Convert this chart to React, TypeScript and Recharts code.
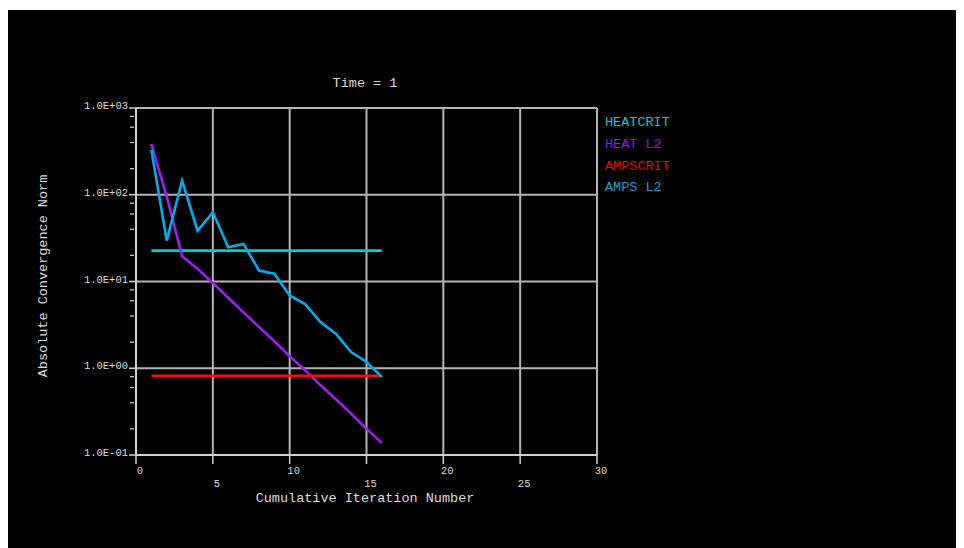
import React from 'react';
import { LineChart, Line, XAxis, YAxis, ReferenceLine } from 'recharts';

const iterations = [1, 2, 3, 4, 5, 6, 7, 8, 9, 10, 11, 12, 13, 14, 15, 16];
const heatCrit = [22.7, 22.7, 22.7, 22.7, 22.7, 22.7, 22.7, 22.7, 22.7, 22.7, 22.7, 22.7, 22.7, 22.7, 22.7, 22.7];
const heatL2 = [385, 95, 19.6, 14, 9.6, 6.5, 4.4, 3.0, 2.05, 1.38, 0.95, 0.64, 0.44, 0.3, 0.2, 0.138];
const ampsCrit = [0.82, 0.82, 0.82, 0.82, 0.82, 0.82, 0.82, 0.82, 0.82, 0.82, 0.82, 0.82, 0.82, 0.82, 0.82, 0.82];
const ampsL2 = [329, 29.6, 146, 38.5, 62.7, 24.8, 27.1, 13.4, 12.3, 6.9, 5.5, 3.4, 2.5, 1.54, 1.18, 0.79];

const xTicks = [0, 5, 10, 15, 20, 25, 30];
const xGrid = [5, 10, 15, 20, 25, 30];
const yMajor = [0.1, 1, 10, 100, 1000];
const yMajorLabels = ['1.0E-01', '1.0E+00', '1.0E+01', '1.0E+02', '1.0E+03'];
const yMinorFactors = [2, 4, 6, 8];
const yGrid = [1, 10, 100, 1000];

const seriesNames = ['HEATCRIT', 'HEAT L2', 'AMPSCRIT', 'AMPS L2'];
const seriesKeys = ['heatCrit', 'heatL2', 'ampsCrit', 'ampsL2'];
const lineColors = ['#00cccc', '#9d1ff0', '#ff0a0a', '#00aeef'];
const legendColors = ['#1cc4c4', '#9416e0', '#e00a0a', '#1a9ad6'];

const data = iterations.map((it, i) => ({
  iter: it,
  heatCrit: heatCrit[i],
  heatL2: heatL2[i],
  ampsCrit: ampsCrit[i],
  ampsL2: ampsL2[i],
}));

const yTicks: number[] = [];
yMajor.forEach((d, i) => {
  yTicks.push(d);
  if (i < yMajor.length - 1) yMinorFactors.forEach((f) => yTicks.push(+(d * f).toPrecision(3)));
});

const FONT = '"Liberation Mono", "Courier New", monospace';
const TXT = '#dcdcdc';
const AXIS = '#d0d0d0';
const GRID = '#b4b4b4';

const YTick = (props: any) => {
  const { x, y, payload } = props;
  const v = payload.value;
  const idx = yMajor.findIndex((m) => Math.abs(m - v) / m < 1e-6);
  if (idx >= 0) {
    return (
      <g>
        <line x1={x - 7} x2={x} y1={y} y2={y} stroke={AXIS} strokeWidth={1.5} />
        <text x={x - 8} y={y + 1} textAnchor="end" fill={TXT} fontFamily={FONT} fontSize={10.5}>
          {yMajorLabels[idx]}
        </text>
      </g>
    );
  }
  return <line x1={x - 6} x2={x - 2} y1={y} y2={y} stroke={AXIS} strokeWidth={1.2} />;
};

const XTick = (props: any) => {
  const { x, y, payload } = props;
  const v = payload.value;
  const row2 = v % 10 !== 0;
  return (
    <g>
      <line x1={x} x2={x} y1={y} y2={y + 9} stroke={AXIS} strokeWidth={1.5} />
      <text
        x={x + 4}
        y={y + (row2 ? 32 : 19)}
        textAnchor="middle"
        fill={TXT}
        fontFamily={FONT}
        fontSize={10.5}
      >
        {String(v)}
      </text>
    </g>
  );
};

const textStyle: React.CSSProperties = {
  position: 'absolute',
  fontFamily: FONT,
  fontSize: 13.5,
  color: TXT,
  whiteSpace: 'nowrap',
  lineHeight: '16px',
};

export default function App() {
  return (
    <div style={{ position: 'relative', width: 956, height: 538, marginTop: 2, background: '#000' }}>
      <LineChart
        width={956}
        height={538}
        data={data}
        margin={{ top: 98, right: 367, bottom: 0, left: 0 }}
      >
        {xGrid.map((v) => (
          <ReferenceLine key={'gx' + v} x={v} stroke={GRID} strokeWidth={2} ifOverflow="extendDomain" />
        ))}
        {yGrid.map((v) => (
          <ReferenceLine key={'gy' + v} y={v} stroke={GRID} strokeWidth={2} />
        ))}
        <XAxis
          type="number"
          dataKey="iter"
          domain={[0, 30]}
          ticks={xTicks}
          interval={0}
          height={93}
          tickSize={0}
          tickMargin={0}
          axisLine={{ stroke: AXIS, strokeWidth: 2 }}
          tickLine={false}
          tick={<XTick />}
        />
        <YAxis
          type="number"
          scale="log"
          domain={[0.1, 1000]}
          allowDataOverflow
          ticks={yTicks}
          interval={0}
          width={128}
          tickSize={0}
          tickMargin={0}
          axisLine={{ stroke: AXIS, strokeWidth: 2 }}
          tickLine={false}
          tick={<YTick />}
        />
        {seriesKeys.map((k, i) => (
          <Line
            key={k}
            type="linear"
            dataKey={k}
            stroke={lineColors[i]}
            strokeWidth={2.6}
            dot={false}
            isAnimationActive={false}
          />
        ))}
      </LineChart>
      <div style={{ ...textStyle, left: 357, top: 66, transform: 'translateX(-50%)' }}>Time = 1</div>
      <div style={{ ...textStyle, left: 357, top: 481, transform: 'translateX(-50%)' }}>
        Cumulative Iteration Number
      </div>
      <div
        style={{
          ...textStyle,
          left: 36,
          top: 266,
          transform: 'translate(-50%, -50%) rotate(-90deg)',
        }}
      >
        Absolute Convergence Norm
      </div>
      {seriesNames.map((n, i) => (
        <div key={n} style={{ ...textStyle, left: 597, top: 105 + i * 21.8, color: legendColors[i] }}>
          {n}
        </div>
      ))}
    </div>
  );
}
